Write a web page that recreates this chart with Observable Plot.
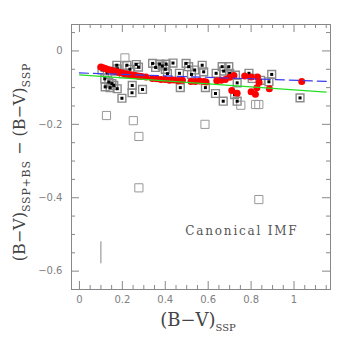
<!DOCTYPE html>
<html><head><meta charset="utf-8">
<script src="https://cdn.jsdelivr.net/npm/d3@7"></script>
<script src="https://cdn.jsdelivr.net/npm/@observablehq/plot@0.6"></script>
<style>body{margin:0;background:#fff}</style>
</head><body><div id="chart"></div>
<script>
// squares with filled centres: (B-V)_SSP and colour difference
const sqX = [0.105,0.118,0.120,0.130,0.137,0.143,0.151,0.160,0.165,0.174,0.176,0.176,0.198,0.205,0.221,0.235,0.246,0.245,0.265,0.275,0.294,
             0.341,0.355,0.374,0.386,0.400,0.404,0.410,0.436,0.466,0.470,0.497,0.509,0.522,0.537,0.572,0.579,0.587,
             0.637,0.634,0.665,0.672,0.670,0.696,0.700,0.723,0.727,0.735,0.735,0.790,0.805,0.844,0.883,0.896,1.028];
const sqY = [-0.052,-0.076,-0.098,-0.060,-0.085,-0.100,-0.089,-0.094,-0.055,-0.039,-0.049,-0.103,-0.129,-0.062,-0.039,-0.050,-0.094,-0.114,-0.037,-0.044,-0.105,
             -0.034,-0.045,-0.036,-0.041,-0.050,-0.036,-0.062,-0.033,-0.061,-0.100,-0.034,-0.043,-0.064,-0.052,-0.039,-0.057,-0.100,
             -0.061,-0.116,-0.043,-0.055,-0.137,-0.043,-0.061,-0.119,-0.066,-0.087,-0.137,-0.061,-0.075,-0.080,-0.084,-0.064,-0.128];
// open squares (no centre)
const openX = [0.212,0.126,0.251,0.277,0.585,0.277,0.752,0.821,0.836,0.836];
const openY = [-0.019,-0.176,-0.190,-0.233,-0.200,-0.373,-0.148,-0.146,-0.146,-0.405];
// red model points
const redX = [0.10,0.11,0.12,0.13,0.14,0.15,0.16,0.17,0.18,0.19,0.20,0.21,0.22,0.23,0.24,0.25,0.26,0.27,0.28,0.29,0.31,
              0.34,0.36,0.38,0.40,0.42,0.44,0.46,0.48,0.52,0.54,0.56,0.58,0.59,0.64,0.66,0.68,0.70,0.72,0.71,0.735,
              0.77,0.80,0.80,0.82,0.827,0.83,0.837,0.885,1.036];
const redY = [-0.044,-0.046,-0.048,-0.050,-0.052,-0.053,-0.055,-0.056,-0.058,-0.059,-0.060,-0.062,-0.063,-0.064,-0.065,-0.066,-0.067,-0.068,-0.069,-0.070,-0.071,
              -0.075,-0.076,-0.078,-0.078,-0.080,-0.079,-0.081,-0.080,-0.083,-0.083,-0.082,-0.083,-0.085,-0.081,-0.080,-0.078,-0.072,-0.067,-0.108,-0.115,
              -0.068,-0.071,-0.111,-0.118,-0.100,-0.071,-0.086,-0.103,-0.083];
// fit lines
const blueX = [0, 1.15], blueY = [-0.060, -0.083];
const greenX = [0, 1.15], greenY = [-0.065, -0.112];
// typical error bar
const errX = [0.1], errLo = [-0.58], errHi = [-0.52];
// ticks
const xMajor = [0,0.2,0.4,0.6,0.8,1];
const xTickLabels = ["0","0.2","0.4","0.6","0.8","1"];
const xMinor = [0.05,0.1,0.15,0.25,0.3,0.35,0.45,0.5,0.55,0.65,0.7,0.75,0.85,0.9,0.95,1.05,1.1,1.15];
const yMajor = [0,-0.2,-0.4,-0.6];
const yTickLabels = ["0","\u22120.2","\u22120.4","\u22120.6"];
const yMinor = [0.05,-0.05,-0.1,-0.15,-0.25,-0.3,-0.35,-0.45,-0.5,-0.55];
const annotation = ["Canonical IMF"];

const squares = sqX.map((x,i)=>({x, y: sqY[i]}));
const opens = openX.map((x,i)=>({x, y: openY[i]}));
const reds = redX.map((x,i)=>({x, y: redY[i]}));
const blue = blueX.map((x,i)=>({x, y: blueY[i]}));
const green = greenX.map((x,i)=>({x, y: greenY[i]}));
const errs = errX.map((x,i)=>({x, y1: errLo[i], y2: errHi[i]}));

const W = 354, H = 354, mL = 71, mR = 24, mT = 24, mB = 65;
const innerH = H - mT - mB, innerW = W - mL - mR;
const tc = "#888";
const major = 8, minor = 4;

const plot = Plot.plot({
  width: W, height: H,
  marginLeft: mL, marginRight: mR, marginTop: mT, marginBottom: mB,
  style: {fontFamily: "DejaVu Sans", fontSize: "10px", background: "white", color: "#777"},
  x: {domain: [-0.037, 1.17], label: null},
  y: {domain: [-0.65, 0.072], label: null},
  marks: [
    Plot.frame({stroke: tc}),
    Plot.tickX(xMajor, {x: d=>d, insetTop: innerH - major, stroke: tc}),
    Plot.tickX(xMajor, {x: d=>d, insetBottom: innerH - major, stroke: tc}),
    Plot.tickX(xMinor, {x: d=>d, insetTop: innerH - minor, stroke: tc}),
    Plot.tickX(xMinor, {x: d=>d, insetBottom: innerH - minor, stroke: tc}),
    Plot.tickY(yMajor, {y: d=>d, insetRight: innerW - major, stroke: tc}),
    Plot.tickY(yMajor, {y: d=>d, insetLeft: innerW - major, stroke: tc}),
    Plot.tickY(yMinor, {y: d=>d, insetRight: innerW - minor, stroke: tc}),
    Plot.tickY(yMinor, {y: d=>d, insetLeft: innerW - minor, stroke: tc}),
    Plot.axisX({ticks: xMajor, tickSize: 0, tickPadding: 6, tickFormat: (d,i)=>xTickLabels[i], fill: "#808080"}),
    Plot.axisY({ticks: yMajor, tickSize: 0, tickPadding: 9, tickFormat: (d,i)=>yTickLabels[i], fill: "#808080"}),
    Plot.dot(opens, {x: "x", y: "y", symbol: "square", r: 4.6, stroke: "#999", strokeWidth: 1, fill: "none"}),
    Plot.dot(squares, {x: "x", y: "y", symbol: "square", r: 4.4, stroke: "#8a8a8a", strokeWidth: 1.4, fill: "none"}),
    Plot.dot(squares, {x: "x", y: "y", symbol: "square", r: 1.7, fill: "black", stroke: "none"}),
    Plot.dot(reds, {x: "x", y: "y", r: 3.5, fill: "#ff0000", stroke: "none"}),
    Plot.line(green, {x: "x", y: "y", stroke: "#22e022", strokeWidth: 1.2}),
    Plot.line(blue, {x: "x", y: "y", stroke: "#3a3aee", strokeWidth: 1.2, strokeDasharray: "9,5"}),
    Plot.ruleX(errs, {x: "x", y1: "y1", y2: "y2", stroke: "#888"}),
    Plot.text(annotation, {frameAnchor: "bottom-right", dx: -32, dy: -55, textAnchor: "end",
      fontFamily: "DejaVu Serif", fontSize: 12, fill: "#555", className: "annot"})
  ]
});
document.getElementById("chart").appendChild(plot);
const svg = d3.select(plot);
svg.selectAll(".annot text").style("letter-spacing", "1.8px");

// x axis label
const xl = svg.append("text").attr("x", 198).attr("y", 326).attr("text-anchor", "middle")
  .attr("font-family", "DejaVu Serif").attr("font-size", 18).attr("fill", "#444");
xl.append("tspan").text("(B\u2212V)");
xl.append("tspan").attr("font-size", 10).attr("dy", 5).text("SSP");

// y axis label
const yl = svg.append("text").attr("transform", "translate(25,162) rotate(-90)").attr("text-anchor", "middle")
  .attr("font-family", "DejaVu Serif").attr("font-size", 16).attr("fill", "#444");
yl.append("tspan").text("(B\u2212V)");
yl.append("tspan").attr("font-size", 11).attr("letter-spacing", "0.8px").attr("dy", 5).text("SSP+BS");
yl.append("tspan").attr("dy", -5).text(" \u2212 (B\u2212V)");
yl.append("tspan").attr("font-size", 11).attr("letter-spacing", "0.8px").attr("dy", 5).text("SSP");
</script></body></html>
